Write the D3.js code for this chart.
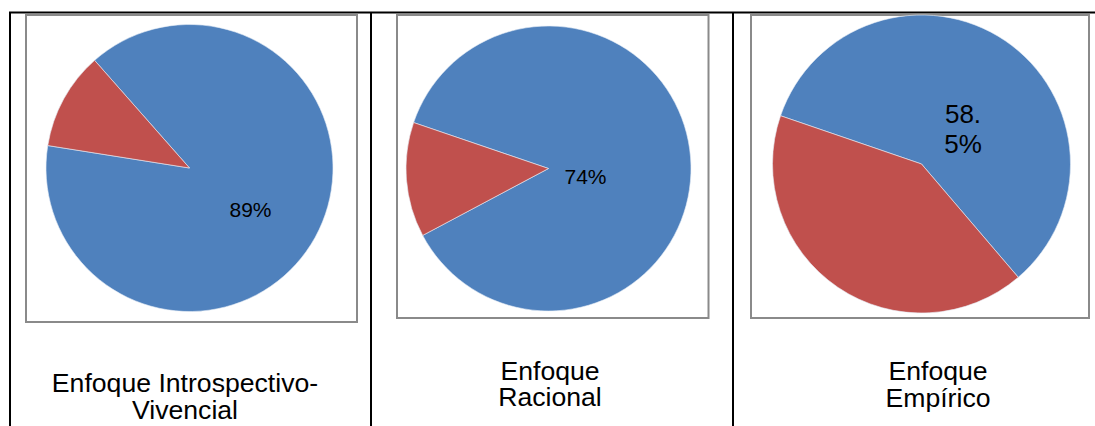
<!DOCTYPE html>
<html>
<head>
<meta charset="utf-8">
<script src="https://cdn.jsdelivr.net/npm/d3@7"></script>
<style>
  html, body { margin: 0; padding: 0; background: #fff; }
  svg { display: block; }
  text { font-family: "Liberation Sans", Arial, sans-serif; fill: #000; }
</style>
</head>
<body>
<div id="chart"></div>
<script>
// data, one pie per table cell
const categories = ["Enfoque Introspectivo-Vivencial", "Enfoque Racional", "Enfoque Empírico"];
const titleLines = [["Enfoque Introspectivo-", "Vivencial"], ["Enfoque", "Racional"], ["Enfoque", "Empírico"]];
const blueValues = [89, 87, 58.5];
const redValues = [11, 13, 41.5];
const pieLabels = [["89%"], ["74%"], ["58.", "5%"]];

const width = 1095, height = 426;
const colors = ["#4F81BD", "#C0504D"];

// layout of each cell
const cells = [
  { box: [26, 15, 357, 322], cx: 189.5, cy: 168, r: 143.5, rot: -41.4,
    lab: { x: 250.5, y: 217, size: 21, lh: 0 }, title: { x: 185, y: 392 } },
  { box: [397, 15, 708.5, 318], cx: 548.5, cy: 168.5, r: 142.5, rot: -71.2,
    lab: { x: 585.5, y: 184, size: 21, lh: 0 }, title: { x: 550, y: 379.5 } },
  { box: [751, 15, 1089, 318], cx: 921.5, cy: 164, r: 149, rot: -71.1,
    lab: { x: 963, y: 122.5, size: 26, lh: 30 }, title: { x: 938, y: 380 } }
];

const svg = d3.select("#chart").append("svg")
  .attr("width", width).attr("height", height);

// table lines
const table = svg.append("g").attr("stroke", "#000").attr("stroke-width", 2);
table.append("line").attr("x1", 9).attr("x2", width).attr("y1", 12.5).attr("y2", 12.5);
[10, 371, 733].forEach(x => {
  table.append("line").attr("x1", x).attr("x2", x).attr("y1", 12).attr("y2", height);
});

const arc = d3.arc().innerRadius(0);

categories.forEach((cat, i) => {
  const c = cells[i];
  const g = svg.append("g").attr("class", "cell").attr("data-name", cat);

  // chart frame
  g.append("rect")
    .attr("x", c.box[0]).attr("y", c.box[1])
    .attr("width", c.box[2] - c.box[0]).attr("height", c.box[3] - c.box[1])
    .attr("fill", "#fff").attr("stroke", "#8a8a8a").attr("stroke-width", 2);

  const start = c.rot * Math.PI / 180;
  const pie = d3.pie().sort(null).value(d => d)
    .startAngle(start).endAngle(start + 2 * Math.PI);

  g.append("g")
    .attr("transform", `translate(${c.cx},${c.cy})`)
    .selectAll("path")
    .data(pie([blueValues[i], redValues[i]]))
    .join("path")
    .attr("d", d => arc.outerRadius(c.r)(d))
    .attr("fill", (d, j) => colors[j])
    .attr("stroke", "#e8eef6")
    .attr("stroke-width", 0.6);

  // value label
  pieLabels[i].forEach((t, k) => {
    g.append("text")
      .attr("x", c.lab.x).attr("y", c.lab.y + k * c.lab.lh)
      .attr("text-anchor", "middle")
      .style("font-size", c.lab.size + "px")
      .text(t);
  });

  // category title under the chart
  titleLines[i].forEach((t, k) => {
    g.append("text")
      .attr("transform", `translate(${c.title.x},${c.title.y + k * 26.5}) scale(1.065,1)`)
      .attr("text-anchor", "middle")
      .style("font-size", "25px")
      .text(t);
  });
});
</script>
</body>
</html>
